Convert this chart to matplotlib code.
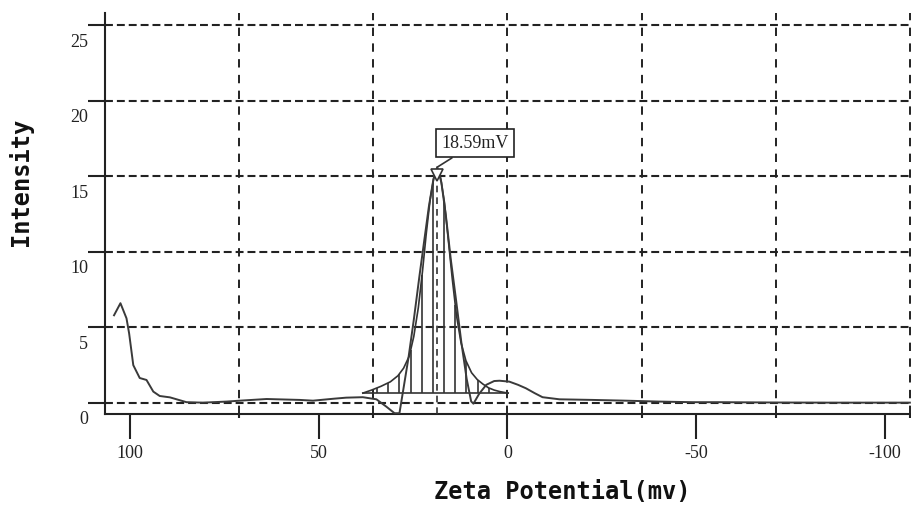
import numpy as np
import matplotlib.pyplot as plt
from matplotlib.transforms import ScaledTranslation

# measured curve (zeta potential mV, intensity)
raw_x = [104.2, 102.5, 100.9, 100.2, 99.1, 97.4, 95.6, 93.8, 92.1, 89.4, 85.0, 80.7,
         74.4, 70.9, 63.8, 55.0, 51.5, 46.0, 42.7, 38.3, 34.7, 32.1, 29.9, 28.6,
         27.5, 26.2, 24.8, 23.3, 22.0, 20.8, 19.6, 18.6, 17.5, 16.3, 15.0, 13.6,
         12.2, 10.8, 9.6, 9.0, 7.5, 5.6, 3.5, 2.1, -0.5, -2.8, -4.9, -7.2, -9.3,
         -13.8, -22.6, -31.4, -40.2, -49.0, -56.0, -70.0, -85.0, -106.6]
raw_y = [5.8, 6.6, 5.6, 4.6, 2.5, 1.65, 1.52, 0.75, 0.46, 0.37, 0.05, 0.02,
         0.09, 0.15, 0.26, 0.2, 0.15, 0.28, 0.35, 0.38, 0.24, -0.24, -0.68, -0.68,
         1.0, 3.0, 5.5, 8.4, 10.8, 13.0, 14.8, 15.6, 14.6, 12.4, 9.5, 6.8,
         4.0, 1.6, 0.1, -0.05, 0.6, 1.2, 1.45, 1.47, 1.41, 1.2, 0.97, 0.65, 0.38,
         0.24, 0.2, 0.15, 0.09, 0.05, 0.05, 0.03, 0.02, 0.02]

# fitted peak
fit_x = [38.3, 36.0, 33.5, 31.0, 29.0, 27.5, 26.0, 24.8, 23.6, 22.5, 21.5, 20.5, 19.5,
         18.59, 17.7, 16.7, 15.7, 14.6, 13.5, 12.3, 11.0, 9.5, 8.0, 6.5, 5.0, 3.5,
         2.0, 0.5, -0.2]
fit_y = [0.65, 0.85, 1.1, 1.4, 1.8, 2.3, 3.1, 4.4, 6.3, 8.7, 11.2, 13.4, 14.9,
         15.4, 14.9, 13.3, 10.9, 8.2, 5.8, 4.0, 2.8, 2.0, 1.55, 1.25, 1.0, 0.85,
         0.75, 0.68, 0.65]
fit_base = 0.65
hatch_x = [37.4, 34.5, 31.5, 28.6, 25.6, 22.6, 19.7, 16.7, 13.8, 10.9, 7.9, 4.9, 1.9]

peak_x = 18.59
peak_y = 15.1
peak_label = '18.59mV'

x_ticks = [100, 50, 0, -50, -100]
x_grid = [71.07, 35.53, 0, -35.53, -71.07, -106.6]
y_ticks = [0, 5, 10, 15, 20, 25]

ink = '#333333'
fig = plt.figure(figsize=(9.12, 5.14), dpi=100)
ax = fig.add_axes([0.1151, 0.1946, 0.8838, 0.7801])

ax.set_xlim(106.6, -106.9)
ax.set_ylim(-0.73, 25.8)

for s in ['top', 'right']:
    ax.spines[s].set_visible(False)
for s in ['left', 'bottom']:
    ax.spines[s].set_linewidth(1.5)
    ax.spines[s].set_color('#222222')

# grid
for gy in y_ticks:
    ax.axhline(gy, color='#222222', lw=1.5, ls=(0, (3.8, 1.9)), zorder=1)
for gx in x_grid:
    ax.axvline(gx, color='#222222', lw=1.4, ls=(0, (4.3, 3.8)), zorder=1)

# ticks
ax.set_xticks(x_ticks)
ax.set_xticklabels([str(v) for v in x_ticks])
ax.set_xticks(x_grid, minor=True)
ax.tick_params(axis='x', which='major', direction='out', length=18, width=1.5,
               pad=4, labelsize=13, color='#222222')
ax.tick_params(axis='x', which='minor', direction='out', length=3, width=1.5,
               color='#222222')
ax.set_yticks(y_ticks)
ax.tick_params(axis='y', direction='out', length=12, width=1.5, pad=0,
               labelsize=13, color='#222222')
off = ScaledTranslation(0, -15 / 100, fig.dpi_scale_trans)
for lab in ax.get_yticklabels():
    lab.set_transform(lab.get_transform() + off)
for lab in ax.get_xticklabels() + ax.get_yticklabels():
    lab.set_fontfamily('Liberation Serif')
    lab.set_color('#222222')

# hatched fit
hatch_top = np.interp(hatch_x, fit_x[::-1], fit_y[::-1])
ax.vlines(hatch_x, fit_base, hatch_top, color=ink, lw=1.2, zorder=3)
ax.plot([fit_x[0], fit_x[-1]], [fit_base, fit_base], color=ink, lw=1.2, zorder=3)
ax.plot(fit_x, fit_y, color=ink, lw=1.2, zorder=3)

# raw data
ax.plot(raw_x, raw_y, color='#3a3a3a', lw=1.4, zorder=4)

# peak marker
ax.plot([peak_x, peak_x], [-0.73, peak_y], color=ink, lw=1.2,
        ls=(0, (4, 3)), zorder=3)
ax.plot(peak_x, peak_y, marker='v', ms=9, mfc='white', mec=ink, mew=1.2, zorder=5)
ax.annotate(peak_label, xy=(peak_x, peak_y + 0.5), xytext=(3, 11),
            textcoords='offset points', ha='left', va='bottom',
            fontsize=13, family='Liberation Serif', color='#222222',
            bbox=dict(boxstyle='square,pad=0.3', fc='white', ec='#222222', lw=1.2),
            arrowprops=dict(arrowstyle='-', color=ink, lw=1.2,
                            shrinkA=0, shrinkB=0))

fig.text(0.617, 0.042, 'Zeta Potential(mv)', ha='center', va='center',
         fontsize=17, fontweight='bold', family='DejaVu Sans Mono', color='#111111')
fig.text(0.023, 0.646, 'Intensity', ha='center', va='center', rotation=90,
         fontsize=17, fontweight='bold', family='DejaVu Sans Mono', color='#111111')

fig.savefig('out.png', dpi=100)
